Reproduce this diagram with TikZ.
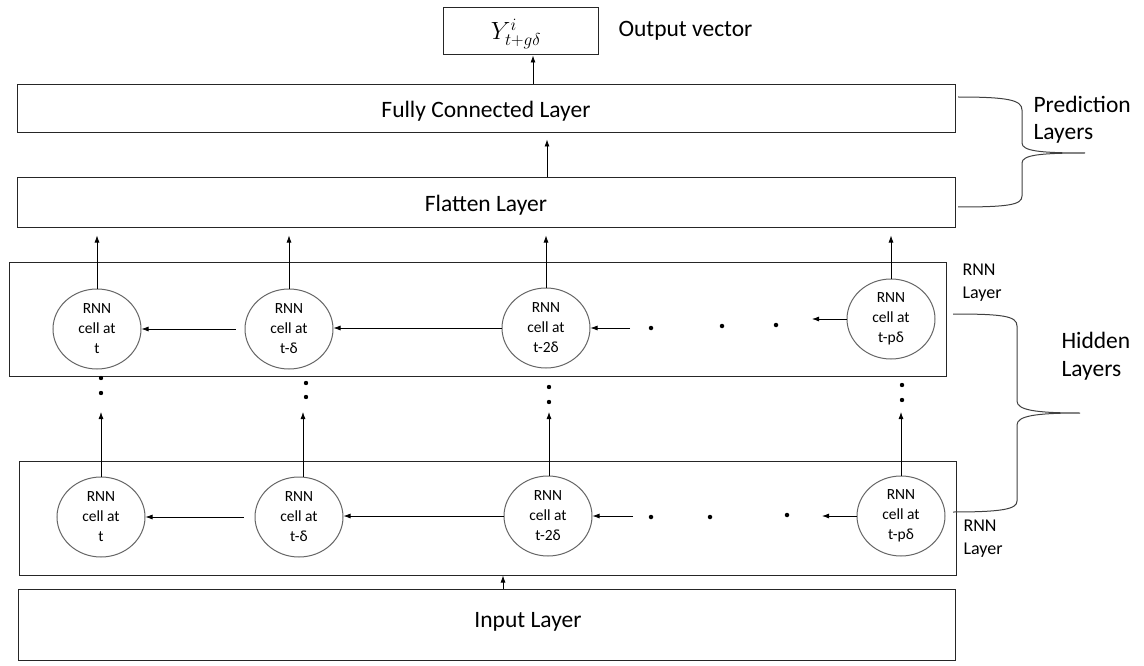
\documentclass[tikz,border=0pt]{standalone}
\usepackage{fontspec}
\setmainfont{Carlito}
\usetikzlibrary{shapes.geometric,arrows.meta,calc}

\begin{document}
\begin{tikzpicture}[x=1pt,y=-1pt,
  big/.style={font=\fontsize{23.5}{28}\selectfont},
  layer/.style={draw=black!85, line width=1pt, inner sep=0pt},
  cell/.style={ellipse, draw=black!60, line width=1pt, fill=white, minimum width=88pt,
               minimum height=80pt, inner sep=0pt, align=center, font=\fontsize{15.5}{20}\selectfont},
  arr/.style={-{Latex[length=7pt,width=5pt]}, line width=0.8pt},
  dotm/.style={circle, fill=black, inner sep=0pt, minimum size=4.5pt},
  side/.style={anchor=west, align=left},
  brace/.style={line width=1pt, draw=black!75}]

\useasboundingbox (0,0) rectangle (1144,666);

% output and prediction layers
\node[layer, minimum width=155pt, minimum height=47pt] (out) at (520.5,31.5) {};
\node[font=\fontsize{27}{30}\selectfont] (outtxt) at (516,34) {$Y^{i}_{t+g\delta}$};
\node[side, big] (outlbl) at (615,30.5) {Output vector};
\node[layer, minimum width=938pt, minimum height=48pt] (fc) at (486,109) {};
\node[big] (fctxt) at (486,111.5) {Fully Connected Layer};
\node[layer, minimum width=938pt, minimum height=49pt] (fl) at (486,202.5) {};
\node[big] (fltxt) at (486,205) {Flatten Layer};

% recurrent layers and input
\node[layer, minimum width=937pt, minimum height=114pt] (up) at (477.5,319) {};
\node[layer, minimum width=937pt, minimum height=114pt] (low) at (487.5,518) {};
\node[layer, minimum width=937pt, minimum height=71pt] (inp) at (486.5,624.5) {};
\node[big] (inptxt) at (528,622) {Input Layer};

% cells of the upper recurrent layer
\node[cell] (u1) at (97,329) {RNN\\cell at\\t};
\node[cell] (u2) at (289,329) {RNN\\cell at\\t-δ};
\node[cell] (u3) at (546,328) {RNN\\cell at\\t-2δ};
\node[cell] (u4) at (891,319) {RNN\\cell at\\t-pδ};

% cells of the lower recurrent layer
\node[cell] (l1) at (101,517) {RNN\\cell at\\t};
\node[cell] (l2) at (299,517) {RNN\\cell at\\t-δ};
\node[cell] (l3) at (548,516) {RNN\\cell at\\t-2δ};
\node[cell] (l4) at (901,516) {RNN\\cell at\\t-pδ};

% side labels
\node[side, font=\fontsize{18}{23}\selectfont] (rl1) at (959,283) {RNN\\Layer};
\node[side, font=\fontsize{18}{23}\selectfont] (rl2) at (960,539) {RNN\\Layer};
\node[side, font=\fontsize{23.5}{27}\selectfont] (pl) at (1030,120) {Prediction\\Layers};
\node[side, font=\fontsize{23.5}{28}\selectfont] (hl) at (1058,356) {Hidden\\Layers};

% vertical flow to the prediction layers
\draw[arr] ([xshift=12.5pt]out.south |- fc.north) -- ([xshift=12.5pt]out.south);
\draw[arr, shorten >=6pt] ([xshift=61pt]fl.north) -- ([xshift=61pt]fl.north |- fc.south);
\foreach \c in {u1,u2,u3,u4}
  \draw[arr, shorten >=8pt] (\c.north) -- (\c.north |- fl.south);

% recurrence in the upper layer
\coordinate (ua) at (630,328);
\coordinate (ub) at (812,319);
\draw[arr] ([xshift=-9pt]u2.west) -- (u1.east);
\draw[arr] (u3.west) -- (u3.west -| u2.east);
\draw[arr] (ua) -- (u3.east);
\draw[arr] (u4.west) -- (ub);
\node[dotm] (ud1) at (651,328) {};
\node[dotm] (ud2) at (722,326) {};
\node[dotm] (ud3) at (776,325) {};

% recurrence in the lower layer
\coordinate (la) at (633,516);
\coordinate (lb) at (822,516);
\draw[arr] ([xshift=-11pt]l2.west) -- (l1.east);
\draw[arr] (l3.west) -- (l3.west -| l2.east);
\draw[arr] (la) -- (l3.east);
\draw[arr] (l4.west) -- (lb);
\node[dotm] (ld1) at (651,517) {};
\node[dotm] (ld2) at (710,517) {};
\node[dotm] (ld3) at (787,515) {};

% lower cells feed upward, with elided layers in between
\foreach \c/\x in {l1/101,l2/303,l3/549,l4/901}
  \draw[arr] (\x,0 |- \c.north) -- (\x,412);
\foreach \x/\ya/\yb in {101/378/393, 306/383/397, 549/387/402, 902/385/400}{
  \fill (\x,\ya) circle (2.2pt);
  \fill (\x,\yb) circle (2.2pt);
}

% input feeds the lower recurrent layer
\draw[arr] ([xshift=16.5pt]inp.north) -- ([xshift=16.5pt]inp.north |- low.south);

% braces
\draw[brace] (958,97) .. controls (1008,97) and (1022,100) .. (1022,110) -- (1022,143)
  .. controls (1022,151) and (1040,153) .. (1085,153)
  .. controls (1040,153) and (1022,155) .. (1022,163) -- (1022,196)
  .. controls (1022,205) and (1008,207) .. (958,207);
\draw[brace] (953,314) .. controls (1003,314) and (1017,316) .. (1017,326) -- (1017,401)
  .. controls (1017,410) and (1035,413) .. (1080,413)
  .. controls (1035,413) and (1017,416) .. (1017,425) -- (1017,501)
  .. controls (1017,509) and (1003,512) .. (953,512);
\end{tikzpicture}
\end{document}
